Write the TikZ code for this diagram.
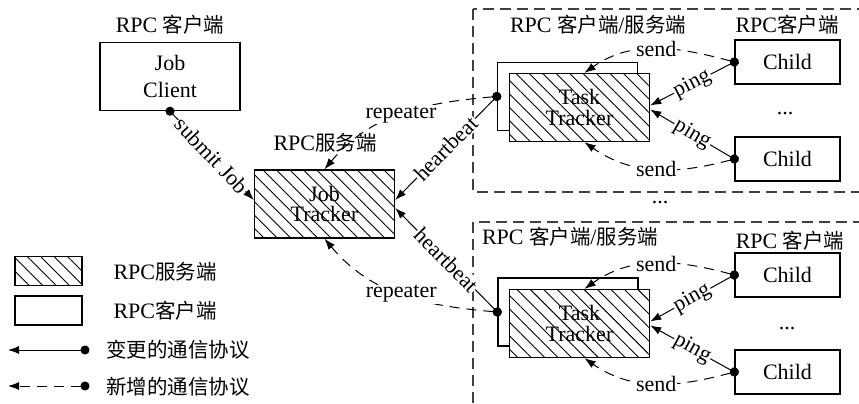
\documentclass[tikz,border=0pt]{standalone}
\usepackage{fontspec}
\setmainfont{Liberation Serif}
\newfontfamily\zh{Noto Sans CJK SC}[Scale=0.93]
\usetikzlibrary{arrows.meta,positioning,patterns.meta}
\definecolor{framegray}{RGB}{64,64,64}

\begin{document}
\begin{tikzpicture}[
      x=10pt, y=-10pt,
      font=\fontsize{22}{20.5}\selectfont,
      client/.style={draw, line width=1.4pt, fill=white, align=center,
                     inner sep=0pt, minimum width=140pt, minimum height=68pt},
      server/.style={client, postaction={pattern={Lines[angle=-45,
                     distance=9.5pt, line width=0.9pt]}}},
      child/.style={client, minimum width=105pt, minimum height=44pt},
      key/.style={minimum width=67pt, minimum height=29pt},
      call/.style={{Circle[length=9pt]}-{Latex[length=11pt,width=8pt]},
                   line width=1pt, shorten <=-4.5pt},
      newcall/.style={call, dash pattern=on 10pt off 7pt},
      tag/.style={fill=white, inner sep=1pt},
      group/.style={draw=framegray, line width=1.5pt,
                    dash pattern=on 11pt off 6pt}
    ]
    \useasboundingbox (0,0) rectangle (85.9,40.4);

    % job client / job tracker
    \node[client] (jc) at (17.0,7.65) {Job\\[7pt]Client};
    \node (jcl) at (17.0,2.5) {RPC {\zh 客户端}};
    \node[server] (jt) at (32.45,20.4) {Job\\Tracker};
    \node (jtl) at (32.5,14.3) {RPC{\zh 服务端}};

    % upper task tracker group
    \draw[group] (47.3,0.9) rectangle (87,19.2);
    \node (g1l) at (59.8,2.5) {RPC {\zh 客户端}/{\zh 服务端}};
    \node (g1r) at (78.7,2.5) {RPC{\zh 客户端}};
    \node[client] (tb1) at (56.75,9.65) {};
    \node[server] (tt1) at (57.95,10.75) {Task\\Tracker};
    \node[child] (ca1) at (78.75,6.2) {Child};
    \node[child] (cb1) at (78.75,15.9) {Child};
    \node (d1) at (78.5,11.4) {...};

    \node (dm) at (66.0,20.3) {...};

    % lower task tracker group
    \draw[group] (47.3,22.2) rectangle (87,42);
    \node (g2l) at (57.0,23.7) {RPC {\zh 客户端}/{\zh 服务端}};
    \node (g2r) at (79.0,24.1) {RPC {\zh 客户端}};
    \node[client] (tb2) at (56.8,31.2) {};
    \node[server] (tt2) at (57.95,32.35) {Task\\Tracker};
    \node[child] (ca2) at (78.75,27.5) {Child};
    \node[child] (cb2) at (78.75,37.2) {Child};
    \node (d2) at (78.7,32.9) {...};

    % calls
    \draw[call] (jc.south) -- node[tag, sloped] {submit Job} ([yshift=4pt]jt.west);
    \draw[call] (tb1.west) -- node[tag, sloped] {heartbeat} ([yshift=4pt]jt.east);
    \draw[call] (tb2.west) -- node[tag, sloped] {heartbeat} ([yshift=-4pt]jt.east);
    \draw[newcall] (tb1.west) to[out=185,in=50] node[tag] {repeater} (jt.north);
    \draw[newcall] (tb2.west) to[out=175,in=-50] node[tag] {repeater} (jt.south);

    \draw[call] (ca1.west) -- node[tag, sloped] {ping} ([yshift=2pt]tt1.east);
    \draw[call] (cb1.west) -- node[tag, sloped] {ping} ([yshift=-2pt]tt1.east);
    \draw[newcall] (ca1.west) to[out=165,in=35] node[tag] {send} ([xshift=5pt]tt1.north);
    \draw[newcall] (cb1.west) to[out=195,in=-35] node[tag] {send} ([xshift=5pt]tt1.south);

    \draw[call] (ca2.west) -- node[tag, sloped] {ping} ([yshift=2pt]tt2.east);
    \draw[call] (cb2.west) -- node[tag, sloped] {ping} ([yshift=-2pt]tt2.east);
    \draw[newcall] (ca2.west) to[out=165,in=35] node[tag] {send} ([xshift=5pt]tt2.north);
    \draw[newcall] (cb2.west) to[out=195,in=-35] node[tag] {send} ([xshift=5pt]tt2.south);

    % legend
    \node[server, key] (ks) at (4.85,27.1) {};
    \node[anchor=west] (kst) at (11.0,27.2) {RPC{\zh 服务端}};
    \node[client, key] (kc) at (4.85,31.05) {};
    \node[anchor=west] (kct) at (11.0,31.1) {RPC{\zh 客户端}};
    \coordinate (ka1) at (8.5,35.0);
    \coordinate (kb1) at (0.8,35.0);
    \draw[call] (ka1) -- (kb1);
    \node[anchor=west] (kat) at (10.3,35.0) {\zh 变更的通信协议};
    \coordinate (ka2) at (8.5,38.6);
    \coordinate (kb2) at (0.8,38.6);
    \draw[newcall] (ka2) -- (kb2);
    \node[anchor=west] (kbt) at (10.3,38.7) {\zh 新增的通信协议};
  \end{tikzpicture}
\end{document}
